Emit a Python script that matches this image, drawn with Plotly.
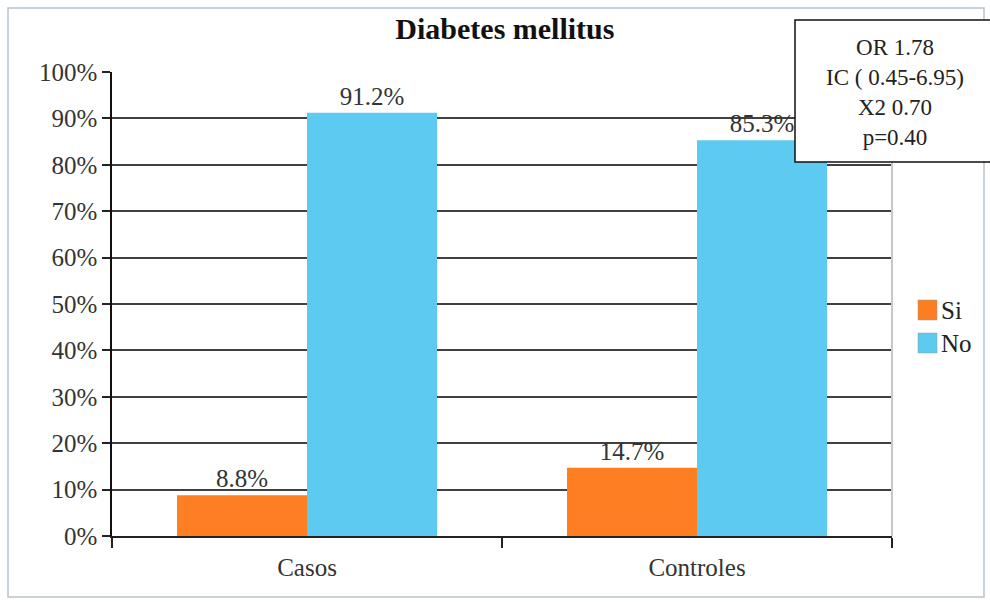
import plotly.graph_objects as go

# Data
grupos = ["Casos", "Controles"]
si_vals = [8.8, 14.7]
no_vals = [91.2, 85.3]
y_ticks = [0, 10, 20, 30, 40, 50, 60, 70, 80, 90, 100]
y_labels = [f"{v}%" for v in y_ticks]
stats_lines = ["OR 1.78", "IC ( 0.45-6.95)", "X2 0.70", "p=0.40"]

FONT = "Liberation Serif"
TXT = "#333333"
SI_COLOR = "#FD7F21"
NO_COLOR = "#5DCBF1"
FS = 25

fig = go.Figure()
fig.add_trace(go.Bar(
    x=grupos, y=si_vals, name="Si", marker_color=SI_COLOR,
    marker_line_width=0,
    text=[f"{v:.1f}%" for v in si_vals], textposition="outside",
    textfont=dict(family=FONT, size=FS, color=TXT), cliponaxis=False,
))
fig.add_trace(go.Bar(
    x=grupos, y=no_vals, name="No", marker_color=NO_COLOR,
    marker_line_width=0,
    text=[f"{v:.1f}%" for v in no_vals], textposition="outside",
    textfont=dict(family=FONT, size=FS, color=TXT), cliponaxis=False,
))

W, H = 990, 602
L, R, T, B = 112, 892, 72, 536


def px(x):
    return (x - L) / (R - L)


def py(y):
    return (B - y) / (B - T)


fig.update_layout(
    width=W, height=H,
    margin=dict(l=L, r=W - R, t=T, b=H - B, autoexpand=False),
    paper_bgcolor="white", plot_bgcolor="white",
    barmode="group", bargap=1 / 3, bargroupgap=0,
    font=dict(family=FONT, size=FS, color=TXT),
    showlegend=False,
    title=dict(text="<b>Diabetes mellitus</b>", x=0.51, xanchor="center",
               y=1 - 28 / H, yanchor="middle",
               font=dict(family=FONT, size=30, color="#111111")),
    xaxis=dict(showgrid=False, showline=True, linecolor="#222222", linewidth=1.5,
               ticks="outside", tickson="boundaries", ticklen=10,
               tickcolor="#222222", tickwidth=1.5, ticklabelstandoff=8,
               tickfont=dict(family=FONT, size=FS, color=TXT)),
    yaxis=dict(range=[0, 100], tickvals=y_ticks, ticktext=y_labels,
               showgrid=True, gridcolor="#404040", gridwidth=1.8,
               showline=True, linecolor="#111111", linewidth=1.5,
               ticks="outside", ticklen=8, tickcolor="#222222", tickwidth=1.5,
               tickfont=dict(family=FONT, size=FS, color=TXT), zeroline=False),
)

# Outer chart frame
fig.add_shape(type="rect", xref="paper", yref="paper",
              x0=px(8), x1=px(984), y0=py(597), y1=py(8),
              line=dict(color="#b8c4cc", width=1.5), fillcolor="rgba(0,0,0,0)",
              layer="below")
# Right border of plot area
fig.add_shape(type="line", xref="paper", yref="paper",
              x0=1, x1=1, y0=0, y1=1,
              line=dict(color="#c8c8c8", width=2))

# Legend: colour squares with series names
for i, (name, color) in enumerate([("Si", SI_COLOR), ("No", NO_COLOR)]):
    top = 300 + i * 33
    fig.add_shape(type="rect", xref="paper", yref="paper",
                  x0=px(918), x1=px(937), y0=py(top + 20), y1=py(top),
                  line=dict(color="#999999", width=0.5), fillcolor=color)
    fig.add_annotation(xref="paper", yref="paper", x=px(939), y=py(top + 10),
                       xanchor="left", yanchor="middle", showarrow=False,
                       text=name, font=dict(family=FONT, size=FS, color="#222222"))

# Statistics box
fig.add_shape(type="rect", xref="paper", yref="paper",
              x0=px(795), x1=px(994), y0=py(162), y1=py(20),
              line=dict(color="#111111", width=1.5), fillcolor="white", layer="above")
fig.add_annotation(xref="paper", yref="paper", x=px(895), y=py(93),
                   xanchor="center", yanchor="middle", showarrow=False,
                   text="<br>".join(stats_lines), align="center",
                   font=dict(family=FONT, size=23, color="#222222"))

fig.write_html("out.html")
